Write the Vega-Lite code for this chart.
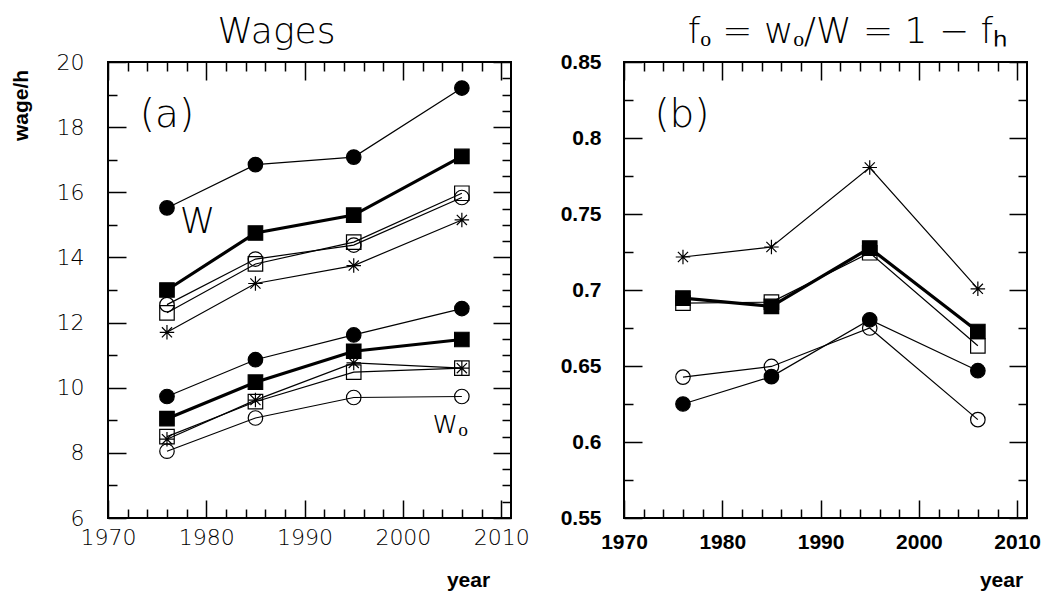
{
  "$schema": "https://vega.github.io/schema/vega-lite/v6.json",
  "background": "white",
  "padding": {"left": 9, "top": 13, "right": 5, "bottom": 5},
  "spacing": 28,
  "config": {
    "view": {"stroke": "black", "strokeWidth": 2},
    "axis": {"domain": false, "grid": false, "tickColor": "black", "tickWidth": 1.5, "labelColor": "black", "titleColor": "black", "labelOverlap": false, "labelBound": false, "labelFlush": false, "minExtent": 0}
  },
  "datasets": {
    "wages": [
      {"group": "W", "marker": "filled circle", "year": 1976, "value": 15.52},
      {"group": "W", "marker": "filled circle", "year": 1985, "value": 16.85},
      {"group": "W", "marker": "filled circle", "year": 1995, "value": 17.08},
      {"group": "W", "marker": "filled circle", "year": 2006, "value": 19.2},
      {"group": "W", "marker": "filled square", "year": 1976, "value": 13.0},
      {"group": "W", "marker": "filled square", "year": 1985, "value": 14.75},
      {"group": "W", "marker": "filled square", "year": 1995, "value": 15.3},
      {"group": "W", "marker": "filled square", "year": 2006, "value": 17.1},
      {"group": "W", "marker": "open square", "year": 1976, "value": 12.3},
      {"group": "W", "marker": "open square", "year": 1985, "value": 13.8},
      {"group": "W", "marker": "open square", "year": 1995, "value": 14.47},
      {"group": "W", "marker": "open square", "year": 2006, "value": 15.97},
      {"group": "W", "marker": "open circle", "year": 1976, "value": 12.55},
      {"group": "W", "marker": "open circle", "year": 1985, "value": 13.95},
      {"group": "W", "marker": "open circle", "year": 1995, "value": 14.38},
      {"group": "W", "marker": "open circle", "year": 2006, "value": 15.84},
      {"group": "W", "marker": "asterisk", "year": 1976, "value": 11.7},
      {"group": "W", "marker": "asterisk", "year": 1985, "value": 13.2},
      {"group": "W", "marker": "asterisk", "year": 1995, "value": 13.75},
      {"group": "W", "marker": "asterisk", "year": 2006, "value": 15.15},
      {"group": "wo", "marker": "filled circle", "year": 1976, "value": 9.73},
      {"group": "wo", "marker": "filled circle", "year": 1985, "value": 10.86},
      {"group": "wo", "marker": "filled circle", "year": 1995, "value": 11.62},
      {"group": "wo", "marker": "filled circle", "year": 2006, "value": 12.43},
      {"group": "wo", "marker": "filled square", "year": 1976, "value": 9.05},
      {"group": "wo", "marker": "filled square", "year": 1985, "value": 10.17},
      {"group": "wo", "marker": "filled square", "year": 1995, "value": 11.12},
      {"group": "wo", "marker": "filled square", "year": 2006, "value": 11.48},
      {"group": "wo", "marker": "open square", "year": 1976, "value": 8.5},
      {"group": "wo", "marker": "open square", "year": 1985, "value": 9.57},
      {"group": "wo", "marker": "open square", "year": 1995, "value": 10.48},
      {"group": "wo", "marker": "open square", "year": 2006, "value": 10.6},
      {"group": "wo", "marker": "asterisk", "year": 1976, "value": 8.42},
      {"group": "wo", "marker": "asterisk", "year": 1985, "value": 9.62},
      {"group": "wo", "marker": "asterisk", "year": 1995, "value": 10.76},
      {"group": "wo", "marker": "asterisk", "year": 2006, "value": 10.6},
      {"group": "wo", "marker": "open circle", "year": 1976, "value": 8.05},
      {"group": "wo", "marker": "open circle", "year": 1985, "value": 9.07},
      {"group": "wo", "marker": "open circle", "year": 1995, "value": 9.7},
      {"group": "wo", "marker": "open circle", "year": 2006, "value": 9.73}
    ],
    "ratio": [
      {"marker": "asterisk", "year": 1976, "value": 0.7217},
      {"marker": "asterisk", "year": 1985, "value": 0.7283},
      {"marker": "asterisk", "year": 1995, "value": 0.7806},
      {"marker": "asterisk", "year": 2006, "value": 0.7008},
      {"marker": "filled square", "year": 1976, "value": 0.6947},
      {"marker": "filled square", "year": 1985, "value": 0.6892},
      {"marker": "filled square", "year": 1995, "value": 0.7276},
      {"marker": "filled square", "year": 2006, "value": 0.6727},
      {"marker": "open square", "year": 1976, "value": 0.6914},
      {"marker": "open square", "year": 1985, "value": 0.692},
      {"marker": "open square", "year": 1995, "value": 0.7245},
      {"marker": "open square", "year": 2006, "value": 0.6633},
      {"marker": "filled circle", "year": 1976, "value": 0.625},
      {"marker": "filled circle", "year": 1985, "value": 0.643},
      {"marker": "filled circle", "year": 1995, "value": 0.6804},
      {"marker": "filled circle", "year": 2006, "value": 0.6469},
      {"marker": "open circle", "year": 1976, "value": 0.6427},
      {"marker": "open circle", "year": 1985, "value": 0.6497},
      {"marker": "open circle", "year": 1995, "value": 0.675},
      {"marker": "open circle", "year": 2006, "value": 0.6147}
    ]
  },
  "hconcat": [
    {
      "width": 403,
      "height": 456,
      "title": {"text": "Wages", "font": "DejaVu Sans", "fontWeight": 200, "fontSize": 36, "baseline": "alphabetic", "offset": -28, "dx": -33, "anchor": "middle", "color": "black"},
      "data": {"name": "wages"},
      "resolve": {"axis": {"x": "independent", "y": "independent"}},
      "layer": [
        {
          "transform": [{"filter": "datum.marker !== 'filled square'"}],
          "mark": {"type": "line", "color": "black", "strokeWidth": 1.2},
          "encoding": {
            "x": {"field": "year", "type": "quantitative", "scale": {"domain": [1970, 2011], "nice": false, "zero": false},
              "axis": {"orient": "bottom", "offset": -18, "tickSize": 18, "tickColor": "black", "tickDashOffset": 9,
                "tickDash": {"condition": {"test": "datum.value % 10 !== 0", "value": [9, 9]}, "value": [18, 0]},
                "values": [1970,1972,1974,1976,1978,1980,1982,1984,1986,1988,1990,1992,1994,1996,1998,2000,2002,2004,2006,2008,2010],
                "format": "d", "labelExpr": "datum.value % 10 === 0 ? datum.label : ''",
                "labelFont": "DejaVu Sans", "labelFontWeight": 200, "labelFontSize": 22, "labelPadding": 9,
                "title": "year", "titleFont": "Liberation Sans", "titleFontWeight": "bold", "titleFontSize": 21,
                "titleX": 360, "titleY": 86, "titleAlign": "center", "titleBaseline": "alphabetic"}},
            "y": {"field": "value", "type": "quantitative", "scale": {"domain": [6, 20], "nice": false, "zero": false},
              "axis": {"orient": "left", "offset": -18, "tickSize": 18, "tickColor": "black", "tickDashOffset": 9,
                "tickDash": {"condition": {"test": "datum.value % 2 !== 0", "value": [9, 9]}, "value": [18, 0]},
                "values": [6,6.5,7,7.5,8,8.5,9,9.5,10,10.5,11,11.5,12,12.5,13,13.5,14,14.5,15,15.5,16,16.5,17,17.5,18,18.5,19,19.5,20],
                "format": "d", "labelExpr": "datum.value % 2 === 0 ? datum.label : ''",
                "labelFont": "DejaVu Sans", "labelFontWeight": 200, "labelFontSize": 22, "labelPadding": 24,
                "title": "wage/h", "titleFont": "Liberation Sans", "titleFontWeight": "bold", "titleFontSize": 21,
                "titleX": -105, "titleY": 43, "titleAngle": -90, "titleAlign": "center", "titleBaseline": "middle"}},
            "detail": [{"field": "group"}, {"field": "marker"}]
          }
        },
        {
          "transform": [{"filter": "datum.marker === 'filled square'"}],
          "mark": {"type": "line", "color": "black", "strokeWidth": 3.2},
          "encoding": {
            "x": {"field": "year", "type": "quantitative", "scale": {"domain": [1970, 2011], "nice": false, "zero": false}, "axis": null},
            "y": {"field": "value", "type": "quantitative", "scale": {"domain": [6, 20], "nice": false, "zero": false}, "axis": null},
            "detail": {"field": "group"}
          }
        },
        {
          "mark": {"type": "point", "filled": true, "stroke": "black", "strokeWidth": 1.2, "opacity": 1, "size": 210},
          "encoding": {
            "x": {"field": "year", "type": "quantitative", "scale": {"domain": [1970, 2011], "nice": false, "zero": false},
              "axis": {"orient": "top", "offset": -18, "tickSize": 18, "tickColor": "black", "tickDashOffset": 9,
                "tickDash": {"condition": {"test": "datum.value % 10 !== 0", "value": [9, 9]}, "value": [18, 0]},
                "values": [1970,1972,1974,1976,1978,1980,1982,1984,1986,1988,1990,1992,1994,1996,1998,2000,2002,2004,2006,2008,2010],
                "labels": false, "title": null}},
            "y": {"field": "value", "type": "quantitative", "scale": {"domain": [6, 20], "nice": false, "zero": false},
              "axis": {"orient": "right", "offset": -18, "tickSize": 18, "tickColor": "black", "tickDashOffset": 9,
                "tickDash": {"condition": {"test": "datum.value % 2 !== 0", "value": [9, 9]}, "value": [18, 0]},
                "values": [6,6.5,7,7.5,8,8.5,9,9.5,10,10.5,11,11.5,12,12.5,13,13.5,14,14.5,15,15.5,16,16.5,17,17.5,18,18.5,19,19.5,20],
                "labels": false, "title": null}},
            "shape": {"field": "marker", "type": "nominal",
              "scale": {"domain": ["filled circle", "filled square", "open square", "open circle", "asterisk"],
                "range": ["circle", "square", "square", "circle", "M0,-1L0,1M-1,0L1,0M-0.7,-0.7L0.7,0.7M-0.7,0.7L0.7,-0.7"]}, "legend": null},
            "fill": {"field": "marker", "type": "nominal",
              "scale": {"domain": ["filled circle", "filled square", "open square", "open circle", "asterisk"],
                "range": ["black", "black", "transparent", "transparent", "transparent"]}, "legend": null}
          }
        },
        {
          "data": {"values": [{"year": 1976, "value": 18.38, "label": "(a)"}]},
          "mark": {"type": "text", "font": "DejaVu Sans", "fontWeight": 200, "fontSize": 39, "align": "center", "baseline": "middle", "color": "black"},
          "encoding": {
            "x": {"field": "year", "type": "quantitative", "scale": {"domain": [1970, 2011], "nice": false, "zero": false}, "axis": null},
            "y": {"field": "value", "type": "quantitative", "scale": {"domain": [6, 20], "nice": false, "zero": false}, "axis": null},
            "text": {"field": "label"}
          }
        },
        {
          "data": {"values": [{"year": 1979.1, "value": 15.1, "label": "W"}]},
          "mark": {"type": "text", "font": "DejaVu Sans", "fontWeight": 200, "fontSize": 36, "align": "center", "baseline": "middle", "color": "black"},
          "encoding": {
            "x": {"field": "year", "type": "quantitative", "scale": {"domain": [1970, 2011], "nice": false, "zero": false}, "axis": null},
            "y": {"field": "value", "type": "quantitative", "scale": {"domain": [6, 20], "nice": false, "zero": false}, "axis": null},
            "text": {"field": "label"}
          }
        },
        {
          "data": {"values": [{"year": 2003.0, "value": 8.62, "label": "wₒ"}]},
          "mark": {"type": "text", "font": "DejaVu Sans", "fontWeight": 200, "fontSize": 32, "align": "left", "baseline": "alphabetic", "color": "black"},
          "encoding": {
            "x": {"field": "year", "type": "quantitative", "scale": {"domain": [1970, 2011], "nice": false, "zero": false}, "axis": null},
            "y": {"field": "value", "type": "quantitative", "scale": {"domain": [6, 20], "nice": false, "zero": false}, "axis": null},
            "text": {"field": "label"}
          }
        }
      ]
    },
    {
      "width": 403,
      "height": 456,
      "title": {"text": "fₒ = wₒ/W = 1 − fₕ", "font": "DejaVu Sans", "fontWeight": 200, "fontSize": 36, "baseline": "alphabetic", "offset": -28, "dx": 22, "anchor": "middle", "color": "black"},
      "data": {"name": "ratio"},
      "resolve": {"axis": {"x": "independent", "y": "independent"}},
      "layer": [
        {
          "transform": [{"filter": "datum.marker !== 'filled square'"}],
          "mark": {"type": "line", "color": "black", "strokeWidth": 1.2},
          "encoding": {
            "x": {"field": "year", "type": "quantitative", "scale": {"domain": [1970, 2011], "nice": false, "zero": false},
              "axis": {"orient": "bottom", "offset": -18, "tickSize": 18, "tickColor": "black", "tickDashOffset": 9,
                "tickDash": {"condition": {"test": "datum.value % 10 !== 0", "value": [9, 9]}, "value": [18, 0]},
                "values": [1970,1972,1974,1976,1978,1980,1982,1984,1986,1988,1990,1992,1994,1996,1998,2000,2002,2004,2006,2008,2010],
                "format": "d", "labelExpr": "datum.value % 10 === 0 ? datum.label : ''",
                "labelFont": "Liberation Sans", "labelFontWeight": "bold", "labelFontSize": 21, "labelPadding": 13,
                "title": "year", "titleFont": "Liberation Sans", "titleFontWeight": "bold", "titleFontSize": 21,
                "titleX": 377, "titleY": 86, "titleAlign": "center", "titleBaseline": "alphabetic"}},
            "y": {"field": "value", "type": "quantitative", "scale": {"domain": [0.55, 0.85], "nice": false, "zero": false},
              "axis": {"orient": "left", "offset": -18, "tickSize": 18, "tickColor": "black", "tickDashOffset": 9,
                "tickDash": {"condition": {"test": "round(datum.value * 1000) % 50 !== 0", "value": [9, 9]}, "value": [18, 0]},
                "values": [0.55,0.575,0.6,0.625,0.65,0.675,0.7,0.725,0.75,0.775,0.8,0.825,0.85],
                "format": ".2~f", "labelExpr": "round(datum.value * 1000) % 50 === 0 ? datum.label : ''",
                "labelFont": "Liberation Sans", "labelFontWeight": "bold", "labelFontSize": 21, "labelPadding": 23, "title": null}},
            "detail": {"field": "marker"}
          }
        },
        {
          "transform": [{"filter": "datum.marker === 'filled square'"}],
          "mark": {"type": "line", "color": "black", "strokeWidth": 3.2},
          "encoding": {
            "x": {"field": "year", "type": "quantitative", "scale": {"domain": [1970, 2011], "nice": false, "zero": false}, "axis": null},
            "y": {"field": "value", "type": "quantitative", "scale": {"domain": [0.55, 0.85], "nice": false, "zero": false}, "axis": null}
          }
        },
        {
          "mark": {"type": "point", "filled": true, "stroke": "black", "strokeWidth": 1.2, "opacity": 1, "size": 210},
          "encoding": {
            "x": {"field": "year", "type": "quantitative", "scale": {"domain": [1970, 2011], "nice": false, "zero": false},
              "axis": {"orient": "top", "offset": -18, "tickSize": 18, "tickColor": "black", "tickDashOffset": 9,
                "tickDash": {"condition": {"test": "datum.value % 10 !== 0", "value": [9, 9]}, "value": [18, 0]},
                "values": [1970,1972,1974,1976,1978,1980,1982,1984,1986,1988,1990,1992,1994,1996,1998,2000,2002,2004,2006,2008,2010],
                "labels": false, "title": null}},
            "y": {"field": "value", "type": "quantitative", "scale": {"domain": [0.55, 0.85], "nice": false, "zero": false},
              "axis": {"orient": "right", "offset": -18, "tickSize": 18, "tickColor": "black", "tickDashOffset": 9,
                "tickDash": {"condition": {"test": "round(datum.value * 1000) % 50 !== 0", "value": [9, 9]}, "value": [18, 0]},
                "values": [0.55,0.575,0.6,0.625,0.65,0.675,0.7,0.725,0.75,0.775,0.8,0.825,0.85],
                "labels": false, "title": null}},
            "shape": {"field": "marker", "type": "nominal",
              "scale": {"domain": ["filled circle", "filled square", "open square", "open circle", "asterisk"],
                "range": ["circle", "square", "square", "circle", "M0,-1L0,1M-1,0L1,0M-0.7,-0.7L0.7,0.7M-0.7,0.7L0.7,-0.7"]}, "legend": null},
            "fill": {"field": "marker", "type": "nominal",
              "scale": {"domain": ["filled circle", "filled square", "open square", "open circle", "asterisk"],
                "range": ["black", "black", "transparent", "transparent", "transparent"]}, "legend": null}
          }
        },
        {
          "data": {"values": [{"year": 1975.9, "value": 0.815, "label": "(b)"}]},
          "mark": {"type": "text", "font": "DejaVu Sans", "fontWeight": 200, "fontSize": 39, "align": "center", "baseline": "middle", "color": "black"},
          "encoding": {
            "x": {"field": "year", "type": "quantitative", "scale": {"domain": [1970, 2011], "nice": false, "zero": false}, "axis": null},
            "y": {"field": "value", "type": "quantitative", "scale": {"domain": [0.55, 0.85], "nice": false, "zero": false}, "axis": null},
            "text": {"field": "label"}
          }
        }
      ]
    }
  ]
}
